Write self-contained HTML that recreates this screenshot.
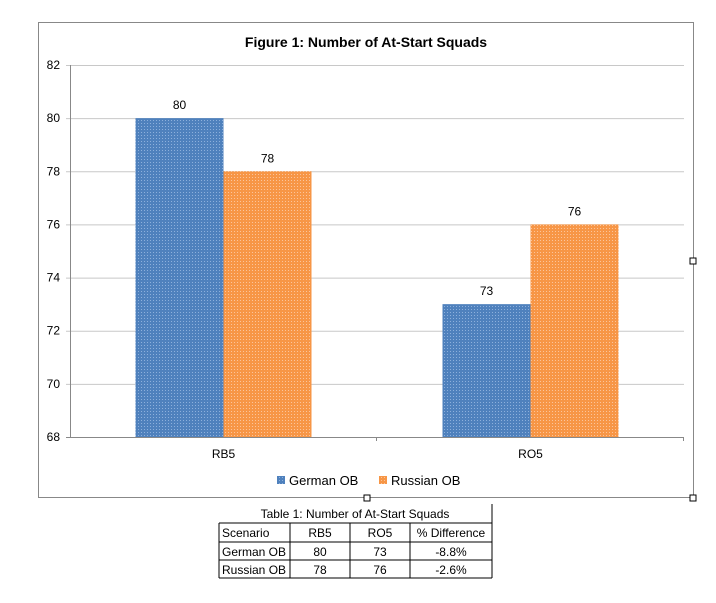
<!DOCTYPE html>
<html><head><meta charset="utf-8"><style>
body{margin:0;background:#fff;width:716px;height:598px;overflow:hidden;font-family:"Liberation Sans",sans-serif}
</style></head><body>
<svg width="716" height="598" xmlns="http://www.w3.org/2000/svg">
<defs>
<pattern id="pb" width="3" height="3" patternUnits="userSpaceOnUse"><rect width="3" height="3" fill="#4f81bd"/><rect width="1" height="1" fill="#8db0dc"/></pattern>
<pattern id="po" width="3" height="3" patternUnits="userSpaceOnUse"><rect width="3" height="3" fill="#f79646"/><rect width="1" height="1" fill="#fbc49a"/></pattern>
</defs>
<rect x="38.5" y="22.5" width="655" height="475" fill="#fff" stroke="#888"/>
<rect x="364" y="495" width="6" height="6" fill="#fff" stroke="#000"/>
<rect x="690" y="258" width="6" height="6" fill="#fff" stroke="#000"/>
<rect x="690" y="495" width="6" height="6" fill="#fff" stroke="#000"/>
<text x="366" y="47" text-anchor="middle" font-size="14" font-weight="bold">Figure 1: Number of At-Start Squads</text>
<g id="axes"></g>
<g id="bars"></g>
<g>
<rect x="277" y="476" width="8" height="8" fill="url(#pb)"/>
<text x="289" y="485" font-size="13">German OB</text>
<rect x="379" y="476" width="8" height="8" fill="url(#po)"/>
<text x="391" y="485" font-size="13">Russian OB</text>
</g>
<g font-size="12">
<text x="355" y="518" text-anchor="middle">Table 1:  Number of At-Start Squads</text>
<line x1="492" y1="504" x2="492" y2="578" stroke="#000"/>
<line x1="219" y1="523" x2="492" y2="523" stroke="#000"/>
<line x1="219" y1="542" x2="492" y2="542" stroke="#000"/>
<line x1="219" y1="560" x2="492" y2="560" stroke="#000"/>
<line x1="219" y1="578" x2="492" y2="578" stroke="#000"/>
<line x1="219" y1="523" x2="219" y2="578" stroke="#000"/>
<line x1="290" y1="523" x2="290" y2="578" stroke="#000"/>
<line x1="350" y1="523" x2="350" y2="578" stroke="#000"/>
<line x1="410" y1="523" x2="410" y2="578" stroke="#000"/>
<text x="222" y="537">Scenario</text><text x="320" y="537" text-anchor="middle">RB5</text><text x="380" y="537" text-anchor="middle">RO5</text><text x="451" y="537" text-anchor="middle">% Difference</text>
<text x="222" y="556">German OB</text><text x="320" y="556" text-anchor="middle">80</text><text x="380" y="556" text-anchor="middle">73</text><text x="451" y="556" text-anchor="middle">-8.8%</text>
<text x="222" y="574">Russian OB</text><text x="320" y="574" text-anchor="middle">78</text><text x="380" y="574" text-anchor="middle">76</text><text x="451" y="574" text-anchor="middle">-2.6%</text>
</g>
</svg>
<script>
const categories=["RB5","RO5"];
const german=[80,73];
const russian=[78,76];
const ticks=[68,70,72,74,76,78,80,82];
const NS="http://www.w3.org/2000/svg";
const x0=70,x1=684,yTop=65,yBot=437,vmin=68,vmax=82;
function y(v){return yBot-(v-vmin)/(vmax-vmin)*(yBot-yTop);}
function el(t,a,p){const e=document.createElementNS(NS,t);for(const k in a)e.setAttribute(k,a[k]);p.appendChild(e);return e;}
const ax=document.getElementById('axes'),bg=document.getElementById('bars');
ticks.forEach(t=>{
 const l=el('line',{x1:x0-4,x2:x1,y1:y(t)+.5,y2:y(t)+.5,stroke:t===vmin?'#888':'#c8c8c8'},ax);
 
 
 const tx=el('text',{x:x0-10,y:y(t)+4,'text-anchor':'end','font-size':12},ax);tx.textContent=t;
 
 
});
const ya=el('line',{x1:x0+.5,x2:x0+.5,y1:yTop,y2:yBot,stroke:'#888'},ax);


const cw=(x1-x0)/categories.length,bw=88;
categories.forEach((c,i)=>{
 const cx=x0+cw*(i+.5);
 const tk=el('line',{x1:x0+cw*(i+1)-.5,x2:x0+cw*(i+1)-.5,y1:yBot,y2:yBot+4,stroke:'#888'},ax);
 
 
 const lb=el('text',{x:cx,y:yBot+21,'text-anchor':'middle','font-size':12},ax);lb.textContent=c;
 
 
 [[german[i],'url(#pb)',cx-bw,'german'],[russian[i],'url(#po)',cx,'russian']].forEach(([v,f,bx,n])=>{
  const r=el('rect',{x:bx,y:y(v),width:bw,height:yBot-y(v),fill:f},bg);
  
  
  const t=el('text',{x:bx+bw/2,y:y(v)-9,'text-anchor':'middle','font-size':12},bg);t.textContent=v;
  
  
 });
});
</script>
</body></html>
